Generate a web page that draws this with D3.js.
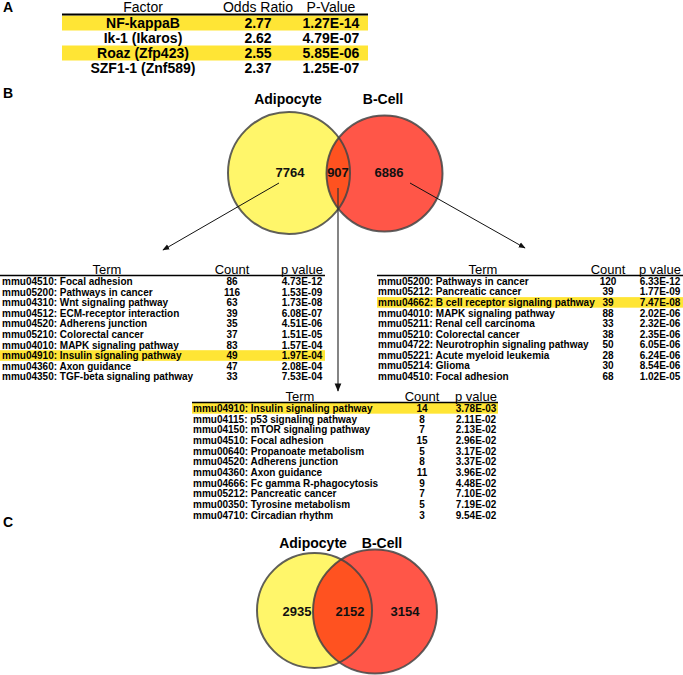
<!DOCTYPE html>
<html><head><meta charset="utf-8">
<script src="https://cdn.jsdelivr.net/npm/d3@7"></script>
<style>
body{margin:0;background:#fff;}
svg{display:block;font-family:"Liberation Sans",Arial,Helvetica,sans-serif;}
</style></head>
<body>
<svg id="chart" width="683" height="675"></svg>
<script>
// ---- Panel A data ----
const factors = ["NF-kappaB","Ik-1 (Ikaros)","Roaz (Zfp423)","SZF1-1 (Znf589)"];
const oddsRatios = ["2.77","2.62","2.55","2.37"];
const factorPValues = ["1.27E-14","4.79E-07","5.85E-06","1.25E-07"];
const factorHighlight = [true,false,true,false];

// ---- Panel B Venn ----
const vennSets = ["Adipocyte","B-Cell"];
const vennB = [7764, 907, 6886];
// ---- Panel C Venn ----
const vennC = [2935, 2152, 3154];

// ---- Left table (Adipocyte only) ----
const leftTerms = ["mmu04510: Focal adhesion","mmu05200: Pathways in cancer","mmu04310: Wnt signaling pathway","mmu04512: ECM-receptor interaction","mmu04520: Adherens junction","mmu05210: Colorectal cancer","mmu04010: MAPK signaling pathway","mmu04910: Insulin signaling pathway","mmu04360: Axon guidance","mmu04350: TGF-beta signaling pathway"];
const leftCounts = [86,116,63,39,35,37,83,49,47,33];
const leftP = ["4.73E-12","1.53E-09","1.73E-08","6.08E-07","4.51E-06","1.51E-05","1.57E-04","1.97E-04","2.08E-04","7.53E-04"];
const leftHighlight = 7;

// ---- Right table (B-Cell only) ----
const rightTerms = ["mmu05200: Pathways in cancer","mmu05212: Pancreatic cancer","mmu04662: B cell receptor signaling pathway","mmu04010: MAPK signaling pathway","mmu05211: Renal cell carcinoma","mmu05210: Colorectal cancer","mmu04722: Neurotrophin signaling pathway","mmu05221: Acute myeloid leukemia","mmu05214: Glioma","mmu04510: Focal adhesion"];
const rightCounts = [120,39,39,88,33,38,50,28,30,68];
const rightP = ["6.33E-12","1.77E-09","7.47E-08","2.02E-06","2.32E-06","2.35E-06","6.05E-06","6.24E-06","8.54E-06","1.02E-05"];
const rightHighlight = 2;

// ---- Middle table (overlap) ----
const midTerms = ["mmu04910: Insulin signaling pathway","mmu04115: p53 signaling pathway","mmu04150: mTOR signaling pathway","mmu04510: Focal adhesion","mmu00640: Propanoate metabolism","mmu04520: Adherens junction","mmu04360: Axon guidance","mmu04666: Fc gamma R-phagocytosis","mmu05212: Pancreatic cancer","mmu00350: Tyrosine metabolism","mmu04710: Circadian rhythm"];
const midCounts = [14,8,7,15,5,8,11,9,7,5,3];
const midP = ["3.78E-03","2.11E-02","2.13E-02","2.96E-02","3.17E-02","3.37E-02","3.96E-02","4.48E-02","7.10E-02","7.19E-02","9.54E-02"];
const midHighlight = 0;

const headers = ["Term","Count","p value"];
const factorHeaders = ["Factor","Odds Ratio","P-Value"];

const HL = "#ffe535";
const svg = d3.select("#chart");

// defs: arrow marker
const defs = svg.append("defs");
defs.append("marker").attr("id","arr").attr("viewBox","0 0 10 10").attr("refX",9).attr("refY",5)
  .attr("markerWidth",7).attr("markerHeight",7).attr("orient","auto")
  .append("path").attr("d","M0,1 L10,5 L0,9 z").attr("fill","#111");

// Panel letters
[["A",3,12],["B",3,98],["C",3,527]].forEach(([t,x,y])=>{
  svg.append("text").attr("x",x).attr("y",y).attr("font-size",14).attr("font-weight","bold").text(t);
});

// ---- Panel A table ----
(function(){
  const y = d3.scaleBand().domain(d3.range(factors.length)).range([15.5,75.5]);
  const x0 = 62, x1 = 368;
  const cols = [143,258,331];
  const g = svg.append("g");
  g.selectAll("rect.hl").data(d3.range(factors.length).filter(i=>factorHighlight[i])).join("rect")
    .attr("x",x0).attr("width",x1-x0).attr("y",i=>y(i)).attr("height",y.bandwidth()).attr("fill",HL);
  g.selectAll("text.h").data(factorHeaders).join("text")
    .attr("x",(d,i)=>cols[i]).attr("y",12).attr("text-anchor","middle").attr("font-size",14).text(d=>d);
  g.append("line").attr("x1",x0).attr("x2",x1).attr("y1",14.5).attr("y2",14.5).attr("stroke","#000").attr("stroke-width",2);
  const rows = factors.map((f,i)=>[f,oddsRatios[i],factorPValues[i]]);
  rows.forEach((r,i)=>{
    r.forEach((v,j)=>{
      g.append("text").attr("x",cols[j]).attr("y",y(i)+y.bandwidth()/2).attr("dy","0.36em")
        .attr("text-anchor","middle").attr("font-size",14).attr("font-weight","bold").text(v);
    });
  });
})();

// ---- Venn drawing ----
function venn(cfg, vals){
  const g = svg.append("g");
  const id = cfg.id;
  defs.append("clipPath").attr("id",id+"clipL").append("circle").attr("cx",cfg.l[0]).attr("cy",cfg.l[1]).attr("r",cfg.l[2]);
  g.append("circle").attr("cx",cfg.l[0]).attr("cy",cfg.l[1]).attr("r",cfg.l[2]).attr("fill","#fff66a");
  g.append("circle").attr("cx",cfg.r[0]).attr("cy",cfg.r[1]).attr("r",cfg.r[2]).attr("fill","#ff5648");
  g.append("circle").attr("cx",cfg.r[0]).attr("cy",cfg.r[1]).attr("r",cfg.r[2]).attr("fill","#ff5220").attr("clip-path","url(#"+id+"clipL)");
  [cfg.l,cfg.r].forEach(c=>{
    g.append("circle").attr("cx",c[0]).attr("cy",c[1]).attr("r",c[2]).attr("fill","none")
      .attr("stroke","#444").attr("stroke-opacity",0.85).attr("stroke-width",2);
  });
  vennSets.forEach((s,i)=>{
    g.append("text").attr("x",cfg.t[i]).attr("y",cfg.ty).attr("text-anchor","middle")
      .attr("font-size",14).attr("font-weight","bold").text(s);
  });
  vals.forEach((v,i)=>{
    g.append("text").attr("x",cfg.n[i]).attr("y",cfg.ny).attr("dy","0.36em").attr("text-anchor","middle")
      .attr("font-size",13).attr("font-weight","bold").attr("fill","#111").text(v);
  });
}
venn({id:"b", l:[289,173,61], r:[384.5,173.5,58], t:[288,383], ty:104, n:[290,338,389], ny:172}, vennB);
venn({id:"c", l:[314.5,610.5,57.5], r:[375,611.5,62], t:[313,382], ty:548, n:[297,350,405], ny:611}, vennC);

// arrows
svg.append("line").attr("x1",279).attr("y1",183).attr("x2",163).attr("y2",250).attr("stroke","#111").attr("stroke-width",1).attr("marker-end","url(#arr)");
svg.append("line").attr("x1",410).attr("y1",183).attr("x2",525).attr("y2",248).attr("stroke","#111").attr("stroke-width",1).attr("marker-end","url(#arr)");
svg.append("line").attr("x1",338).attr("y1",188).attr("x2",338).attr("y2",391).attr("stroke","#333").attr("stroke-width",1.2).attr("marker-end","url(#arr)");

// ---- tables ----
function table(cfg, terms, counts, pv, hl){
  const g = svg.append("g");
  const y = d3.scaleBand().domain(d3.range(terms.length)).range([cfg.top, cfg.top + cfg.step*terms.length]);
  g.append("rect").attr("x",cfg.x0).attr("width",cfg.x1-cfg.x0).attr("y",y(hl)).attr("height",y.bandwidth()).attr("fill",HL);
  const hx = [cfg.termH, cfg.countX, cfg.pX];
  g.selectAll("text.h").data(headers).join("text").attr("x",(d,i)=>hx[i]).attr("y",cfg.top-2)
    .attr("text-anchor","middle").attr("font-size",13).text(d=>d);
  g.append("line").attr("x1",cfg.x0).attr("x2",cfg.x1).attr("y1",cfg.top-0.5).attr("y2",cfg.top-0.5).attr("stroke","#000").attr("stroke-width",1.5);
  terms.forEach((t,i)=>{
    const yc = y(i)+y.bandwidth()/2;
    g.append("text").attr("x",cfg.termX).attr("y",yc).attr("dy","0.36em").attr("font-size",10).attr("font-weight","bold").text(t);
    g.append("text").attr("x",cfg.countX).attr("y",yc).attr("dy","0.36em").attr("text-anchor","middle").attr("font-size",10).attr("font-weight","bold").text(counts[i]);
    g.append("text").attr("x",cfg.pX).attr("y",yc).attr("dy","0.36em").attr("text-anchor","middle").attr("font-size",10).attr("font-weight","bold").text(pv[i]);
  });
}
table({top:276, step:10.6, x0:0, x1:325, termX:2, termH:107, countX:232, pX:302}, leftTerms, leftCounts, leftP, leftHighlight);
table({top:276, step:10.56, x0:377, x1:683, termX:378, termH:483, countX:608, pX:660}, rightTerms, rightCounts, rightP, rightHighlight);
table({top:403, step:10.67, x0:192, x1:498, termX:193, termH:300, countX:422, pX:476}, midTerms, midCounts, midP, midHighlight);
</script>
</body></html>
